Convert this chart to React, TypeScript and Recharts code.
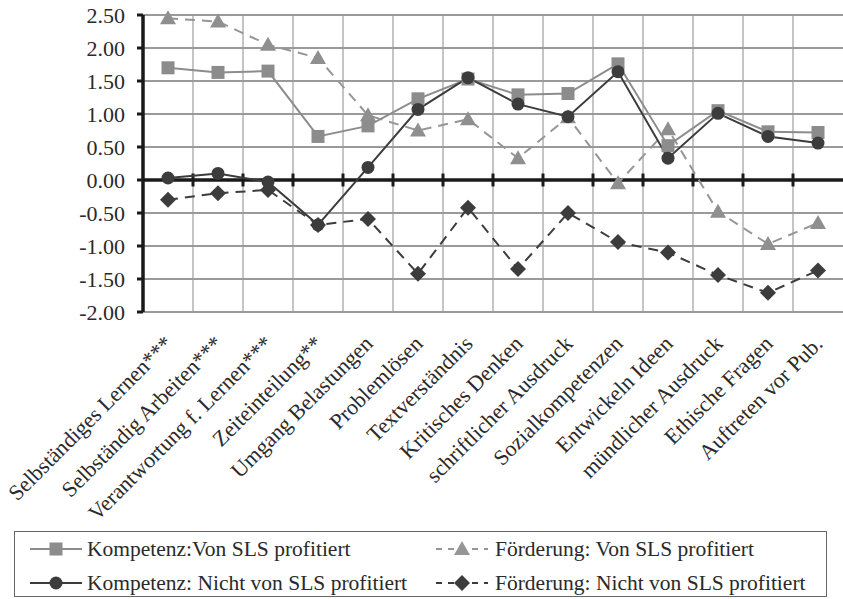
import React from "react";
import { LineChart, Line, XAxis, YAxis, CartesianGrid, ReferenceLine } from "recharts";

const categories = [
  "Selbständiges Lernen***",
  "Selbständig Arbeiten***",
  "Verantwortung f. Lernen***",
  "Zeiteinteilung**",
  "Umgang Belastungen",
  "Problemlösen",
  "Textverständnis",
  "Kritisches Denken",
  "schriftlicher Ausdruck",
  "Sozialkompetenzen",
  "Entwickeln Ideen",
  "mündlicher Ausdruck",
  "Ethische Fragen",
  "Auftreten vor Pub.",
];

const kompetenzVon = [1.7, 1.63, 1.65, 0.66, 0.82, 1.23, 1.53, 1.29, 1.31, 1.76, 0.52, 1.05, 0.73, 0.72];
const kompetenzNicht = [0.03, 0.1, -0.03, -0.68, 0.19, 1.07, 1.55, 1.15, 0.96, 1.64, 0.33, 1.01, 0.66, 0.56];
const foerderungVon = [2.45, 2.4, 2.05, 1.85, 0.98, 0.75, 0.92, 0.33, 0.95, -0.05, 0.77, -0.48, -0.97, -0.65];
const foerderungNicht = [-0.3, -0.2, -0.15, -0.68, -0.59, -1.42, -0.42, -1.35, -0.5, -0.94, -1.1, -1.44, -1.71, -1.37];

const yTicks = [-2, -1.5, -1, -0.5, 0, 0.5, 1, 1.5, 2, 2.5];

const seriesNames = {
  kVon: "Kompetenz:Von SLS profitiert",
  fVon: "Förderung: Von SLS profitiert",
  kNicht: "Kompetenz: Nicht von SLS profitiert",
  fNicht: "Förderung: Nicht von SLS profitiert",
};

const data = categories.map((name, i) => ({
  name,
  kVon: kompetenzVon[i],
  kNicht: kompetenzNicht[i],
  fVon: foerderungVon[i],
  fNicht: foerderungNicht[i],
}));

const FONT = '"Liberation Serif", "Times New Roman", serif';
const LIGHT = "#8c8c8c";
const DARK = "#3c3c3c";

// plot is 700px wide, 14 categories -> half a band of padding on each side
const HALF_BAND = 25;

const Square = ({ cx, cy, fill }: any) => (
  <rect x={cx - 6.5} y={cy - 6.5} width={13} height={13} fill={fill} />
);
const Dot = ({ cx, cy, fill }: any) => <circle cx={cx} cy={cy} r={6.5} fill={fill} />;
const Triangle = ({ cx, cy, fill }: any) => (
  <polygon points={`${cx},${cy - 8} ${cx + 8},${cy + 6} ${cx - 8},${cy + 6}`} fill={fill} />
);
const Diamond = ({ cx, cy, fill }: any) => (
  <polygon points={`${cx},${cy - 8} ${cx + 8},${cy} ${cx},${cy + 8} ${cx - 8},${cy}`} fill={fill} />
);

const markerDot = (Shape: any, fill: string, prefix: string) => (p: any) => (
  <Shape key={`${prefix}-${p.index}`} cx={p.cx} cy={p.cy} fill={fill} />
);

const CategoryTick = ({ x, y, payload }: any) => {
  const ax = x + 6;
  const ay = y + 25;
  return (
    <text
      x={ax}
      y={ay}
      transform={`rotate(-45, ${ax}, ${ay})`}
      textAnchor="end"
      fontFamily={FONT}
      fontSize={22}
      fill="#2a2a2a"
    >
      {payload.value}
    </text>
  );
};

const ZeroLine = (p: any) => {
  const n = categories.length;
  const step = (p.x2 - p.x1) / n;
  return (
    <g>
      <line x1={p.x1} y1={p.y1} x2={p.x2} y2={p.y2} stroke="#1a1a1a" strokeWidth={3.5} />
      {categories.slice(1).map((_, k) => (
        <line
          key={k}
          x1={p.x1 + (k + 1) * step}
          x2={p.x1 + (k + 1) * step}
          y1={p.y1 - 6.5}
          y2={p.y1 + 6.5}
          stroke="#1a1a1a"
          strokeWidth={3}
        />
      ))}
    </g>
  );
};

const legendItems = [
  { key: "kVon", shape: Square, color: LIGHT, dash: undefined as string | undefined, col: 0, row: 0 },
  { key: "fVon", shape: Triangle, color: "#969696", dash: "6 6", col: 1, row: 0 },
  { key: "kNicht", shape: Dot, color: DARK, dash: undefined, col: 0, row: 1 },
  { key: "fNicht", shape: Diamond, color: DARK, dash: "6 6", col: 1, row: 1 },
];

const Legend = () => (
  <div
    style={{
      position: "absolute",
      left: 14,
      top: 531,
      width: 811,
      height: 64,
      border: "1.5px solid #666",
      background: "#fff",
    }}
  >
    {legendItems.map((it) => {
      const left = it.col === 0 ? 14 : 420;
      const top = it.row === 0 ? 3 : 37;
      const Shape = it.shape;
      return (
        <div
          key={it.key}
          style={{ position: "absolute", left, top, display: "flex", alignItems: "center", height: 28 }}
        >
          <svg width={54} height={20} style={{ display: "block" }}>
            <line x1={1} y1={10} x2={53} y2={10} stroke={it.color} strokeWidth={2} strokeDasharray={it.dash} />
            <Shape cx={27} cy={10} fill={it.color} />
          </svg>
          <span
            style={{
              fontFamily: FONT,
              fontSize: 21.5,
              color: "#2a2a2a",
              marginLeft: it.col === 0 ? 4 : 6,
              whiteSpace: "nowrap",
            }}
          >
            {seriesNames[it.key as keyof typeof seriesNames]}
          </span>
        </div>
      );
    })}
  </div>
);

export default function App() {
  return (
    <div style={{ position: "absolute", left: 0, top: 0, width: 843, height: 599, background: "#fff" }}>
      <LineChart width={843} height={599} data={data} margin={{ top: 15, right: 0, left: 0, bottom: 0 }}>
        <CartesianGrid
          horizontal={false}
          stroke="#c4c4c4"
          strokeWidth={2}
          verticalCoordinatesGenerator={({ offset }: any) =>
            categories.slice(1).map((_, k) => offset.left + ((k + 1) * offset.width) / categories.length)
          }
        />
        <CartesianGrid vertical={false} stroke="#9a9a9a" strokeWidth={2} />
        <XAxis
          dataKey="name"
          interval={0}
          axisLine={false}
          tickLine={false}
          height={287}
          padding={{ left: HALF_BAND, right: HALF_BAND }}
          tick={<CategoryTick />}
        />
        <YAxis
          width={143}
          domain={[-2, 2.5]}
          ticks={yTicks}
          tickFormatter={(v: number) => v.toFixed(2)}
          axisLine={{ stroke: "#1a1a1a", strokeWidth: 3.5 }}
          tickLine={{ stroke: "#1a1a1a", strokeWidth: 3 }}
          tickSize={6}
          tickMargin={12}
          tick={{ fontFamily: FONT, fontSize: 22, fill: "#2a2a2a" }}
        />
        <ReferenceLine y={0} shape={ZeroLine} />
        <Line
          dataKey="fVon"
          name={seriesNames.fVon}
          stroke="#969696"
          strokeWidth={2}
          strokeDasharray="10 7"
          dot={markerDot(Triangle, "#8f8f8f", "tri")}
          isAnimationActive={false}
        />
        <Line
          dataKey="kVon"
          name={seriesNames.kVon}
          stroke={LIGHT}
          strokeWidth={2}
          dot={markerDot(Square, LIGHT, "sq")}
          isAnimationActive={false}
        />
        <Line
          dataKey="fNicht"
          name={seriesNames.fNicht}
          stroke={DARK}
          strokeWidth={2}
          strokeDasharray="10 7"
          dot={markerDot(Diamond, DARK, "dia")}
          isAnimationActive={false}
        />
        <Line
          dataKey="kNicht"
          name={seriesNames.kNicht}
          stroke={DARK}
          strokeWidth={2}
          dot={markerDot(Dot, DARK, "ci")}
          isAnimationActive={false}
        />
      </LineChart>
      <Legend />
    </div>
  );
}
